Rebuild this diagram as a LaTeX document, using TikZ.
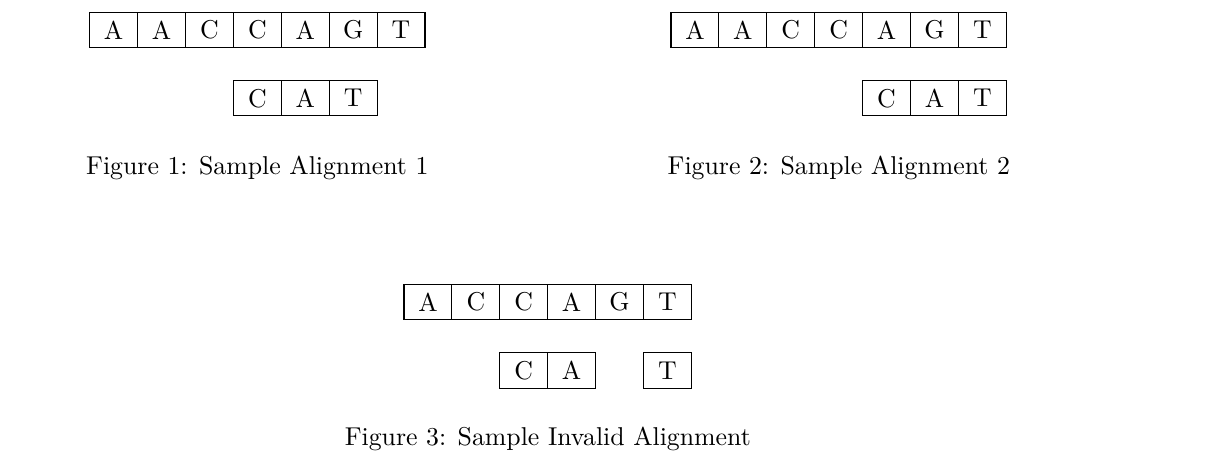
\documentclass[tikz,border=0pt]{standalone}
\usepackage{tikz}
\usetikzlibrary{positioning}
\tikzset{cell/.style={draw,minimum width=18.57pt,minimum height=13.76pt,inner sep=0pt,outer sep=0pt}}

\begin{document}
\begin{tikzpicture}[x=0.3876pt,y=-0.3876pt]
\useasboundingbox (0,0) rectangle (1221,472);
\foreach \l [count=\i from 0] in {A,A,C,C,A,G,T}
  \node[cell] (ref1-\i) at ({89.7+47.9*(\i+0.5)},30) {\l};
\foreach \l [count=\i from 3] in {C,A,T}
  \node[cell] (read1-\i) at ({89.7+47.9*(\i+0.5)},98.2) {\l};
\node[anchor=base] (cap1) at (257.3,174) {Figure 1: Sample Alignment 1};
\foreach \l [count=\i from 0] in {A,A,C,C,A,G,T}
  \node[cell] (ref2-\i) at ({671+47.9*(\i+0.5)},30) {\l};
\foreach \l [count=\i from 4] in {C,A,T}
  \node[cell] (read2-\i) at ({671+47.9*(\i+0.5)},98.2) {\l};
\node[anchor=base] (cap2) at (838.8,174) {Figure 2: Sample Alignment 2};
\foreach \l [count=\i from 0] in {A,C,C,A,G,T}
  \node[cell] (ref3-\i) at ({404+47.9*(\i+0.5)},302) {\l};
\foreach \l/\i in {C/2,A/3,T/5}
  \node[cell] (read3-\i) at ({404+47.9*(\i+0.5)},370.5) {\l};
\node[anchor=base] (cap3) at (547.8,445) {Figure 3: Sample Invalid Alignment};
\end{tikzpicture}
\end{document}
